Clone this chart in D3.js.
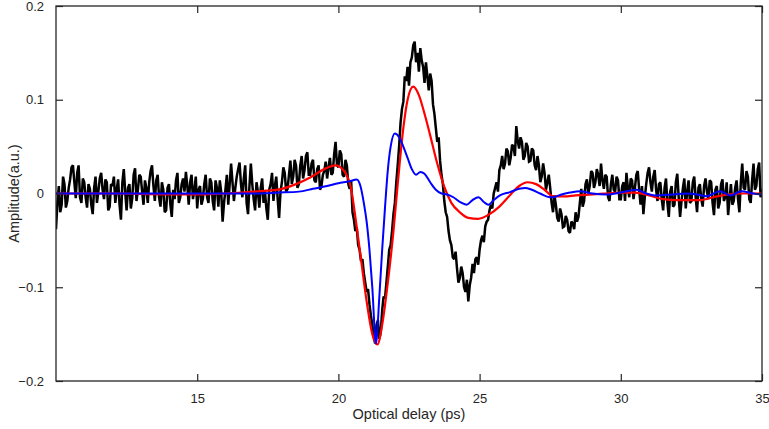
<!DOCTYPE html>
<html>
<head>
<meta charset="utf-8">
<script src="https://cdn.jsdelivr.net/npm/d3@7"></script>
<style>
  body { margin: 0; background: #fff; }
  text { font-family: "Liberation Sans", Arial, sans-serif; fill: #262626; }
</style>
</head>
<body>
<div id="root"></div>
<script>
// Tick values.
const xTicks = [15, 20, 25, 30, 35];
const yTicks = [-0.2, -0.1, 0, 0.1, 0.2];

// Measured trace (black), sampled every 0.05 ps from 10 ps (one row per ps).
const measuredStart = 10;
const measuredStep = 0.05;
const measured = [
  -0.038, -0.01, 0.008, -0.02, -0.012, 0.018, 0.01, -0.015, -0.008, 0.006, 0.015, 0.028, 0.03, 0.012, -0.005, 0.022, 0.03, -0.004, -0.01, 0.016,
  0.012, -0.004, -0.015, 0.01, 0.005, -0.012, -0.022, 0.006, 0.018, -0.01, 0.002, 0.016, 0.022, 0.004, -0.006, 0.015, 0.012, -0.018, -0.014, 0.01,
  0.008, 0.018, -0.01, 0.004, 0.015, -0.012, -0.028, 0.012, 0.026, 0.002, -0.018, 0.006, 0.01, -0.016, -0.005, 0.02, 0.027, -0.008, 0.004, 0.02,
  0.018, 0.002, -0.012, 0.014, 0.006, -0.01, 0.012, 0.024, 0.03, 0.008, -0.008, 0.014, 0.02, -0.004, -0.014, 0.012, 0.004, -0.02, -0.018, 0.006,
  0.01, -0.012, -0.025, 0.004, -0.006, 0.014, 0.022, -0.01, -0.004, 0.01, 0.016, 0.002, 0.023, 0.008, -0.012, 0.012, 0.02, -0.006, 0.003, 0.018,
  -0.016, 0.004, 0.008, -0.012, -0.006, 0.01, 0.02, -0.004, -0.01, 0.016, 0.012, -0.008, -0.018, 0.014, 0.006, -0.014, 0.014, 0.002, -0.03, -0.01,
  0.004, 0.02, -0.012, 0.01, 0.032, 0.012, -0.008, 0.006, 0.018, 0.026, 0.033, 0.01, -0.004, 0.016, 0.03, -0.01, -0.022, 0.008, 0.032, 0.01,
  -0.006, -0.018, 0.012, 0.002, -0.015, 0.006, 0.016, -0.01, 0.002, -0.016, -0.028, 0.004, 0.01, 0.022, -0.008, 0.008, 0.018, -0.006, -0.026, 0.002,
  0.012, 0.028, 0.022, 0.002, 0.005, 0.02, 0.035, 0.01, 0.018, 0.036, 0.03, 0.006, 0.01, 0.03, 0.04, 0.016, 0.025, 0.04, 0.044, 0.02,
  0.02, 0.032, 0.036, 0.014, 0.012, 0.026, 0.03, 0.004, 0.008, 0.02, 0.024, 0.034, 0.016, 0.028, 0.038, 0.02, 0.022, 0.042, 0.055, 0.03,
  0.028, 0.046, 0.042, 0.02, 0.018, 0.036, 0.03, 0.01, 0.005, 0.014, -0.02, -0.028, -0.04, -0.036, -0.055, -0.06, -0.072, -0.07, -0.085, -0.095,
  -0.105, -0.102, -0.118, -0.13, -0.14, -0.152, -0.16, -0.14, -0.135, -0.155, -0.148, -0.125, -0.11, -0.112, -0.095, -0.078, -0.06, -0.055, -0.04, -0.022,
  -0.01, 0.012, 0.03, 0.05, 0.075, 0.09, 0.098, 0.125, 0.12, 0.135, 0.115, 0.14, 0.145, 0.158, 0.162, 0.14, 0.15, 0.13, 0.155, 0.142,
  0.135, 0.118, 0.14, 0.125, 0.11, 0.128, 0.12, 0.095, 0.085, 0.07, 0.055, 0.06, 0.035, 0.02, 0.01, -0.008, -0.02, -0.025, -0.04, -0.05,
  -0.055, -0.068, -0.07, -0.062, -0.08, -0.095, -0.09, -0.078, -0.085, -0.1, -0.105, -0.092, -0.115, -0.098, -0.09, -0.075, -0.085, -0.07, -0.068, -0.076,
  -0.06, -0.05, -0.045, -0.052, -0.035, -0.03, -0.028, -0.018, -0.012, -0.016, 0.0, 0.006, 0.012, 0.002, 0.025, 0.03, 0.04, 0.026, 0.032, 0.048,
  0.045, 0.03, 0.038, 0.052, 0.05, 0.04, 0.072, 0.056, 0.048, 0.06, 0.055, 0.036, 0.04, 0.054, 0.05, 0.034, 0.035, 0.048, 0.046, 0.03,
  0.025, 0.04, 0.03, 0.012, 0.018, 0.032, 0.022, 0.004, 0.012, 0.02, 0.006, -0.01, -0.02, -0.002, -0.012, -0.026, -0.03, -0.016, -0.022, -0.036,
  -0.035, -0.024, -0.028, -0.04, -0.042, -0.03, -0.032, -0.038, -0.02, -0.03, -0.025, -0.01, 0.005, -0.014, -0.008, 0.01, 0.015, 0.0, 0.008, 0.024,
  0.022, 0.006, 0.012, 0.026, 0.02, 0.008, 0.032, 0.014, 0.005, 0.02, 0.018, -0.004, -0.008, 0.01, 0.02, 0.004, 0.002, 0.018, 0.014, -0.006,
  -0.006, 0.008, 0.012, -0.008, 0.022, 0.006, -0.004, 0.016, 0.014, -0.006, 0.006, 0.02, 0.024, 0.004, -0.012, 0.008, -0.022, -0.004, 0.01, 0.022,
  0.028, 0.012, 0.002, 0.018, 0.025, 0.004, -0.008, 0.01, 0.012, -0.006, -0.018, 0.006, 0.016, -0.01, -0.025, 0.002, 0.008, -0.014, -0.012, 0.012,
  0.021, -0.004, -0.025, -0.008, 0.006, 0.016, -0.016, 0.002, 0.014, -0.01, -0.008, 0.012, 0.018, -0.004, -0.02, 0.006, 0.01, -0.006, -0.014, 0.008,
  0.016, 0.002, -0.006, 0.014, 0.012, -0.01, -0.023, 0.004, 0.008, -0.016, -0.01, 0.01, 0.015, -0.008, -0.004, 0.012, -0.023, -0.006, 0.01, -0.012,
  -0.008, 0.006, 0.014, -0.006, -0.02, 0.012, 0.032, 0.006, 0.004, 0.024, 0.018, -0.006, -0.01, 0.014, 0.032, 0.004, 0.008, 0.026, 0.033, -0.004,
  0.005
];

// Fitted curve (red): [delay, amplitude].
const fitted = [
  [10, 0], [12, 0], [14, -0.001], [15, -0.001], [16, 0], [17, 0.002], [17.5, 0.003],
  [18, 0.005], [18.5, 0.01], [19, 0.017], [19.5, 0.026], [19.9, 0.03], [20.2, 0.024],
  [20.45, 0.005], [20.6, -0.025], [20.8, -0.07], [21.0, -0.115], [21.2, -0.15],
  [21.38, -0.161], [21.55, -0.14], [21.75, -0.095], [21.95, -0.04], [22.1, 0.01],
  [22.3, 0.07], [22.45, 0.1], [22.65, 0.114], [22.85, 0.105], [23.05, 0.085],
  [23.25, 0.062], [23.5, 0.032], [23.75, 0.007], [24.0, -0.01], [24.3, -0.02],
  [24.6, -0.026], [24.95, -0.027], [25.3, -0.023], [25.7, -0.014], [26.1, -0.001],
  [26.4, 0.008], [26.7, 0.012], [27.0, 0.01], [27.3, 0.004], [27.6, -0.003],
  [28.0, -0.003], [28.4, -0.002], [29.0, -0.001], [29.5, 0], [30.0, 0.001],
  [30.5, 0.001], [31.0, -0.002], [31.5, -0.006], [32.0, -0.007], [32.8, -0.007],
  [33.4, -0.003], [34.2, 0], [35, 0]
];

// Simulated curve (blue): [delay, amplitude].
const simulated = [
  [10, 0], [12, 0], [14, 0], [16, 0], [17, 0], [17.9, 0.001], [18.6, 0.002],
  [19.1, 0.005], [19.6, 0.008], [20.0, 0.011], [20.4, 0.013], [20.65, 0.015],
  [20.78, 0.008], [20.9, -0.01], [21.0, -0.03], [21.1, -0.06], [21.2, -0.1],
  [21.33, -0.16], [21.45, -0.11], [21.55, -0.06], [21.65, -0.015], [21.75, 0.025],
  [21.85, 0.05], [22.0, 0.064], [22.15, 0.06], [22.3, 0.05], [22.45, 0.038],
  [22.6, 0.026], [22.75, 0.02], [22.9, 0.023], [23.05, 0.021], [23.25, 0.012],
  [23.45, 0.004], [23.65, 0], [23.85, -0.001], [24.07, -0.004], [24.3, -0.009],
  [24.54, -0.012], [24.75, -0.007], [24.96, -0.004], [25.15, -0.009], [25.31, -0.012],
  [25.5, -0.007], [25.72, -0.002], [26.08, 0.0015], [26.4, 0.005], [26.61, 0.006],
  [26.85, 0.004], [27.14, 0], [27.49, -0.004], [27.61, -0.004], [27.9, -0.001],
  [28.2, 0.001], [28.55, 0.0025], [29.0, 0], [29.5, -0.001], [30.0, 0.001],
  [30.56, 0.004], [30.9, 0], [31.21, -0.002], [31.86, -0.001], [32.33, 0],
  [32.7, -0.001], [33.04, -0.003], [33.51, 0.0025], [33.87, -0.002], [34.28, 0.0025],
  [34.69, 0], [35, -0.001]
];

let width = 769;
let height = 429;
let plotLeft = 56, plotRight = 762, plotTop = 6, plotBottom = 381;

let svg = d3.select('#root')
  .append('svg')
  .attr('width', width)
  .attr('height', height);

let xScale = d3.scaleLinear().domain([10, 35]).range([plotLeft, plotRight]);
let yScale = d3.scaleLinear().domain([-0.2, 0.2]).range([plotBottom, plotTop]);

// Clip lines to the plot box.
svg.append('clipPath').attr('id', 'plot')
  .append('rect')
  .attr('x', plotLeft).attr('y', plotTop)
  .attr('width', plotRight - plotLeft).attr('height', plotBottom - plotTop);

let measuredPts = measured.map((v, i) => [measuredStart + i * measuredStep, v]);

let line = d3.line()
  .x(d => xScale(d[0]))
  .y(d => yScale(d[1]));

let smooth = d3.line()
  .x(d => xScale(d[0]))
  .y(d => yScale(d[1]))
  .curve(d3.curveMonotoneX);

let lines = svg.append('g').attr('clip-path', 'url(#plot)');

lines.append('path')
  .datum(measuredPts)
  .attr('d', line)
  .attr('fill', 'none')
  .attr('stroke', '#000')
  .attr('stroke-width', 2.5)
  .attr('stroke-linejoin', 'miter')
  .attr('stroke-miterlimit', 2);

lines.append('path')
  .datum(fitted)
  .attr('d', smooth)
  .attr('fill', 'none')
  .attr('stroke', '#ff0000')
  .attr('stroke-width', 2.2);

lines.append('path')
  .datum(simulated)
  .attr('d', smooth)
  .attr('fill', 'none')
  .attr('stroke', '#0000ff')
  .attr('stroke-width', 2);

// Axes: ticks point inward on all four sides, like a boxed MATLAB plot.
let tickLen = 7;

let xAxis = d3.axisBottom(xScale).tickValues(xTicks).tickSizeInner(-tickLen).tickSizeOuter(0).tickPadding(tickLen + 6);
let xAxisTop = d3.axisTop(xScale).tickValues(xTicks).tickSizeInner(-tickLen).tickSizeOuter(0).tickFormat('');
let yAxis = d3.axisLeft(yScale).tickValues(yTicks).tickSizeInner(-tickLen).tickSizeOuter(0).tickPadding(tickLen + 5)
  .tickFormat(d => d === 0 ? '0' : d3.format('.1f')(d));
let yAxisRight = d3.axisRight(yScale).tickValues(yTicks).tickSizeInner(-tickLen).tickSizeOuter(0).tickFormat('');

let styleAxis = g => {
  g.select('.domain').remove();
  g.selectAll('line').attr('stroke', '#262626').attr('stroke-width', 1.2);
  g.selectAll('text').attr('font-size', 13).attr('fill', '#333')
    .style('font-family', '"Liberation Sans", Arial, sans-serif');
};

svg.append('g').attr('transform', `translate(0, ${plotBottom})`).call(xAxis).call(styleAxis);
svg.append('g').attr('transform', `translate(0, ${plotTop})`).call(xAxisTop).call(styleAxis);
svg.append('g').attr('transform', `translate(${plotLeft}, 0)`).call(yAxis).call(styleAxis);
svg.append('g').attr('transform', `translate(${plotRight}, 0)`).call(yAxisRight).call(styleAxis);

// Box around the plot.
svg.append('rect')
  .attr('x', plotLeft).attr('y', plotTop)
  .attr('width', plotRight - plotLeft).attr('height', plotBottom - plotTop)
  .attr('fill', 'none')
  .attr('stroke', '#262626')
  .attr('stroke-width', 1.3);

// Axis titles.
svg.append('text')
  .attr('x', (plotLeft + plotRight) / 2)
  .attr('y', 419)
  .attr('text-anchor', 'middle')
  .attr('font-size', 14.5)
  .attr('fill', '#333')
  .text('Optical delay (ps)');

svg.append('text')
  .attr('transform', `translate(19, ${(plotTop + plotBottom) / 2}) rotate(-90)`)
  .attr('text-anchor', 'middle')
  .attr('font-size', 14.5)
  .attr('fill', '#333')
  .text('Amplitude(a.u.)');
</script>
</body>
</html>
